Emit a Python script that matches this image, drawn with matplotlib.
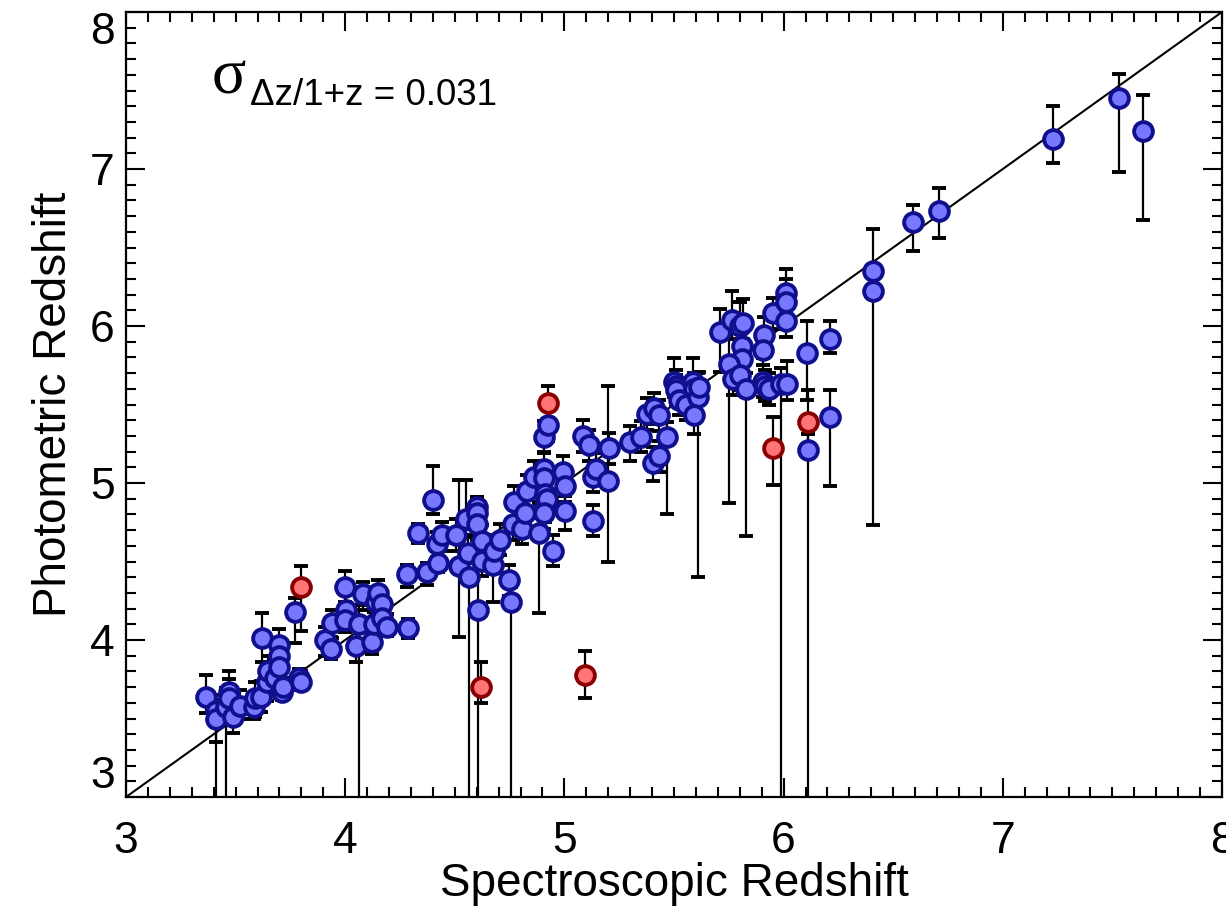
"""
Photometric vs spectroscopic redshift comparison.
"""

import matplotlib
matplotlib.use("Agg")
import matplotlib.pyplot as plt
from matplotlib.ticker import MultipleLocator
import numpy as np

# ---------------------------------------------------------------------------
# Data
# ---------------------------------------------------------------------------

# blue: good photometric redshifts
z_spec = [
    3.365, 3.41, 3.41, 3.456, 3.47, 3.47, 3.49, 3.52, 3.585, 3.59,
    3.615, 3.62, 3.645, 3.65, 3.68, 3.70, 3.70, 3.70, 3.71, 3.715,
    3.77, 3.79, 3.80, 3.91, 3.935, 3.94, 4.00, 4.005, 4.00, 4.05,
    4.065, 4.08, 4.12, 4.13, 4.14, 4.15, 4.17, 4.17, 4.19, 4.285,
    4.28, 4.33, 4.375, 4.40, 4.42, 4.425, 4.44, 4.505, 4.52, 4.55,
    4.565, 4.56, 4.60, 4.60, 4.60, 4.605, 4.625, 4.625, 4.675, 4.68,
    4.705, 4.745, 4.755, 4.77, 4.765, 4.805, 4.82, 4.83, 4.86, 4.885,
    4.905, 4.905, 4.91, 4.91, 4.92, 4.905, 4.905, 4.925, 4.95, 4.995,
    5.005, 5.005, 5.085, 5.11, 5.13, 5.145, 5.13, 5.205, 5.20, 5.30,
    5.35, 5.375, 5.41, 5.43, 5.405, 5.43, 5.47, 5.50, 5.51, 5.51,
    5.525, 5.555, 5.585, 5.59, 5.61, 5.615, 5.59, 5.71, 5.765, 5.80,
    5.815, 5.81, 5.81, 5.75, 5.77, 5.80, 5.83, 5.91, 5.905, 5.95,
    6.01, 6.01, 6.01, 5.905, 5.915, 5.935, 5.99, 6.015, 6.105, 6.11,
    6.21, 6.21, 6.41, 6.41, 6.59, 6.71, 7.23, 7.53, 7.64,
]
z_phot = [
    3.635, 3.55, 3.50, 3.575, 3.67, 3.63, 3.51, 3.58, 3.575, 3.63,
    3.64, 4.01, 3.73, 3.80, 3.755, 3.97, 3.90, 3.83, 3.67, 3.70,
    4.18, 3.755, 3.73, 4.00, 3.94, 4.11, 4.34, 4.19, 4.13, 3.96,
    4.10, 4.29, 3.99, 4.10, 4.24, 4.30, 4.23, 4.14, 4.085, 4.075,
    4.42, 4.68, 4.43, 4.89, 4.61, 4.49, 4.67, 4.67, 4.47, 4.77,
    4.40, 4.555, 4.85, 4.81, 4.74, 4.19, 4.63, 4.505, 4.48, 4.57,
    4.64, 4.38, 4.24, 4.88, 4.74, 4.71, 4.81, 4.95, 5.04, 4.68,
    5.09, 5.03, 4.93, 4.85, 4.90, 4.81, 5.295, 5.37, 4.57, 5.07,
    4.98, 4.82, 5.30, 5.24, 5.04, 5.09, 4.76, 5.22, 5.01, 5.26,
    5.295, 5.44, 5.475, 5.43, 5.13, 5.17, 5.29, 5.645, 5.62, 5.59,
    5.53, 5.50, 5.645, 5.60, 5.55, 5.61, 5.43, 5.96, 6.04, 6.00,
    6.02, 5.87, 5.79, 5.76, 5.66, 5.69, 5.60, 5.94, 5.85, 6.08,
    6.21, 6.15, 6.03, 5.645, 5.62, 5.60, 5.63, 5.63, 5.83, 5.21,
    5.92, 5.42, 6.35, 6.22, 6.66, 6.73, 7.19, 7.45, 7.24,
]
err_lo = [
    0.10, 0.80, 0.15, 0.80, 0.10, 0.10, 0.10, 0.08, 0.08, 0.12,
    0.10, 0.15, 0.12, 0.10, 0.08, 0.10, 0.10, 0.12, 0.05, 0.05,
    0.20, 0.05, 0.05, 0.10, 0.06, 0.10, 0.10, 0.10, 0.08, 0.10,
    1.50, 0.10, 0.08, 0.10, 0.08, 0.08, 0.10, 0.08, 0.06, 0.06,
    0.08, 0.06, 0.08, 0.09, 0.08, 0.06, 0.10, 0.10, 0.45, 0.10,
    1.50, 0.10, 0.10, 0.10, 0.10, 1.50, 0.10, 0.10, 0.24, 0.10,
    0.10, 0.10, 1.50, 0.10, 0.10, 0.10, 0.10, 0.10, 0.10, 0.51,
    0.10, 0.10, 0.10, 0.10, 0.10, 0.10, 0.10, 0.10, 0.10, 0.10,
    0.10, 0.12, 0.10, 0.10, 0.10, 0.10, 0.10, 0.10, 0.51, 0.12,
    0.10, 0.10, 0.10, 0.10, 0.12, 0.10, 0.49, 0.10, 0.10, 0.10,
    0.10, 0.10, 0.10, 0.10, 1.15, 0.10, 0.12, 0.25, 0.12, 0.10,
    0.10, 0.10, 0.12, 0.89, 0.10, 0.10, 0.94, 0.10, 0.10, 0.10,
    0.10, 0.10, 0.10, 0.10, 0.10, 0.10, 3.00, 0.10, 0.30, 3.00,
    0.09, 0.44, 0.10, 1.49, 0.18, 0.17, 0.15, 0.47, 0.565,
]
err_hi = [
    0.14, 0.10, 0.12, 0.12, 0.13, 0.12, 0.12, 0.10, 0.08, 0.10,
    0.10, 0.16, 0.10, 0.10, 0.10, 0.10, 0.10, 0.12, 0.08, 0.06,
    0.09, 0.06, 0.07, 0.08, 0.08, 0.08, 0.10, 0.10, 0.08, 0.15,
    0.12, 0.08, 0.10, 0.08, 0.08, 0.08, 0.08, 0.08, 0.08, 0.06,
    0.06, 0.06, 0.06, 0.22, 0.08, 0.08, 0.08, 0.10, 0.55, 0.25,
    0.12, 0.10, 0.06, 0.10, 0.10, 0.30, 0.10, 0.10, 0.10, 0.10,
    0.10, 0.10, 0.10, 0.10, 0.10, 0.10, 0.10, 0.10, 0.10, 0.20,
    0.10, 0.10, 0.10, 0.10, 0.10, 0.10, 0.10, 0.10, 0.10, 0.10,
    0.10, 0.10, 0.10, 0.10, 0.10, 0.10, 0.10, 0.10, 0.61, 0.10,
    0.10, 0.10, 0.10, 0.10, 0.10, 0.10, 0.10, 0.15, 0.10, 0.10,
    0.10, 0.10, 0.15, 0.10, 0.15, 0.10, 0.10, 0.15, 0.18, 0.15,
    0.15, 0.12, 0.10, 0.20, 0.15, 0.10, 0.10, 0.12, 0.10, 0.10,
    0.15, 0.15, 0.15, 0.15, 0.10, 0.10, 0.10, 0.15, 0.20, 0.10,
    0.11, 0.17, 0.27, 0.10, 0.11, 0.15, 0.21, 0.155, 0.23,
]

# red: outliers
z_spec_out = [3.80, 4.62, 4.925, 5.094, 5.95, 6.11]
z_phot_out = [4.34, 3.70, 5.51, 3.78, 5.22, 5.39]
err_lo_out = [0.28, 0.10, 0.10, 0.15, 0.23, 0.20]
err_hi_out = [0.13, 0.16, 0.11, 0.15, 0.20, 0.20]

SIGMA_TEXT = "\u0394z/1+z = 0.031"

BLUE_FILL = "#7878ff"
BLUE_EDGE = "#10108e"
RED_FILL = "#ff7474"
RED_EDGE = "#8a0000"

# ---------------------------------------------------------------------------
# Plot
# ---------------------------------------------------------------------------

plt.rcParams["font.family"] = ["Liberation Sans", "DejaVu Sans"]

W, H = 1226, 916
fig = plt.figure(figsize=(W / 100, H / 100), dpi=100)
ax = fig.add_axes([126 / W, 119 / H, 1096 / W, 785 / H])

ax.plot([3, 8], [3, 8], color="black", lw=1.5, zorder=1)

common = dict(fmt="o", ecolor="black", elinewidth=1.6, capsize=5, capthick=1.6,
              markersize=13.5, markeredgewidth=2.8, zorder=2)
ax.errorbar(z_spec, z_phot, yerr=[err_lo, err_hi],
            markerfacecolor=BLUE_FILL, markeredgecolor=BLUE_EDGE, **common)
ax.errorbar(z_spec_out, z_phot_out, yerr=[err_lo_out, err_hi_out],
            markerfacecolor=RED_FILL, markeredgecolor=RED_EDGE, **common)

ax.set_xlim(3, 8)
ax.set_ylim(3, 8)
ax.xaxis.set_major_locator(MultipleLocator(1))
ax.yaxis.set_major_locator(MultipleLocator(1))
ax.xaxis.set_minor_locator(MultipleLocator(0.1))
ax.yaxis.set_minor_locator(MultipleLocator(0.1))
ax.tick_params(which="both", direction="in", top=True, right=True, width=1.5)
ax.tick_params(which="major", length=14, labelsize=32)
ax.tick_params(which="minor", length=7)
ax.tick_params(axis="x", which="major", pad=17)
ax.tick_params(axis="y", which="major", pad=8)
for sp in ax.spines.values():
    sp.set_linewidth(1.6)

ax.set_xlabel("Spectroscopic Redshift", fontsize=33, labelpad=0)
ax.set_ylabel("Photometric Redshift", fontsize=33, labelpad=10)

ax.text(0.078, 0.896, "\u03c3", transform=ax.transAxes, fontsize=46,
        family="Liberation Serif", va="baseline", ha="left")
ax.text(0.113, 0.8815, SIGMA_TEXT, transform=ax.transAxes, fontsize=26.5,
        va="baseline", ha="left")

# end labels of the y axis sit inside the axis range, as in the original
fig.canvas.draw()
for tick, loc in zip(ax.yaxis.get_major_ticks(), ax.yaxis.get_majorticklocs()):
    if np.isclose(loc, 8):
        tick.label1.set_verticalalignment("top")
    elif np.isclose(loc, 3):
        tick.label1.set_verticalalignment("bottom")

fig.savefig("out.png", dpi=100)
